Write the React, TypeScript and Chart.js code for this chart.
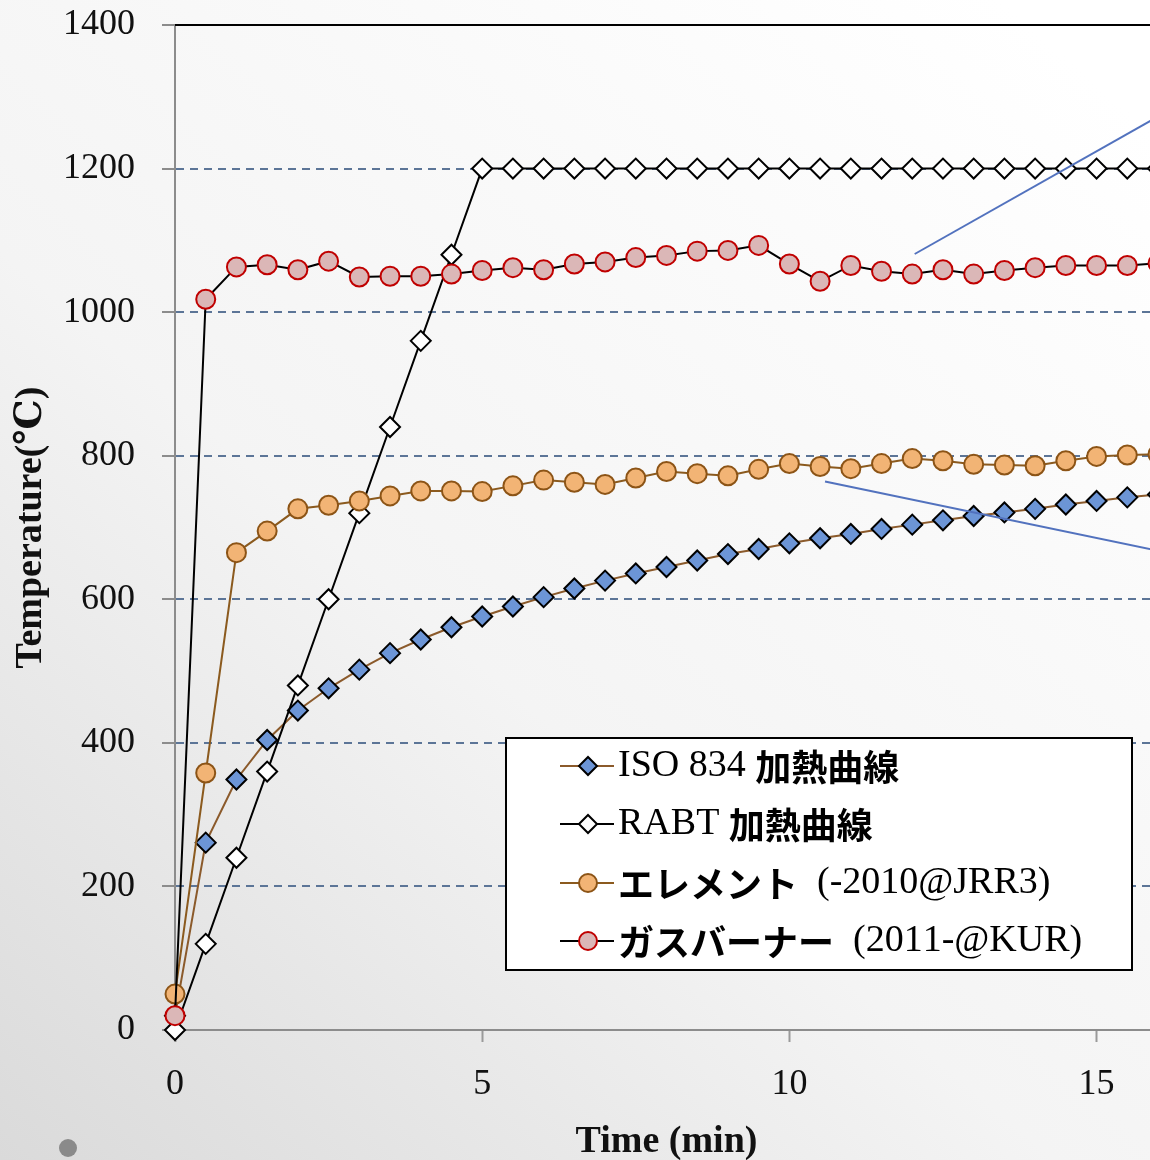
import React, { useEffect, useRef } from "react";
import { Chart, registerables } from "chart.js";

Chart.register(...registerables);

// ---- data ----
const timeMin = [0, 0.5, 1, 1.5, 2, 2.5, 3, 3.5, 4, 4.5, 5, 5.5, 6, 6.5, 7, 7.5, 8, 8.5, 9, 9.5, 10, 10.5, 11, 11.5, 12, 12.5, 13, 13.5, 14, 14.5, 15, 15.5, 16];

const iso834 = [20, 261, 349, 404, 445, 476, 502, 525, 544, 561, 576, 590, 603, 615, 626, 636, 645, 654, 663, 670, 678, 685, 691, 698, 704, 710, 716, 721, 726, 732, 737, 742, 746];

const rabt = [0, 120, 240, 360, 480, 600, 720, 840, 960, 1080, 1200, 1200, 1200, 1200, 1200, 1200, 1200, 1200, 1200, 1200, 1200, 1200, 1200, 1200, 1200, 1200, 1200, 1200, 1200, 1200, 1200, 1200, 1200];

const elementHeater = [50, 358, 665, 695, 726, 731, 737, 744, 751, 751, 750, 758, 766, 763, 760, 769, 778, 775, 772, 781, 789, 785, 782, 789, 796, 793, 788, 787, 786, 793, 799, 801, 802];

const gasBurner = [20, 1018, 1063, 1066, 1059, 1071, 1049, 1050, 1050, 1053, 1058, 1062, 1059, 1067, 1070, 1076, 1079, 1085, 1086, 1093, 1067, 1043, 1065, 1057, 1053, 1059, 1053, 1058, 1062, 1065, 1065, 1065, 1068];

const seriesLabels = ["ISO 834 加熱曲線", "RABT 加熱曲線", "エレメント  (-2010@JRR3)", "ガスバーナー  (2011-@KUR)"];

const xTickValues = [0, 5, 10, 15];
const yTickValues = [0, 200, 400, 600, 800, 1000, 1200, 1400];

const xTitle = "Time (min)";
const yTitle = "Temperature(℃)";

// callout leader lines (data coordinates: [time, temperature])
const calloutUpper = [[12.04, 1081], [16.2, 1282]];
const calloutLower = [[10.58, 764], [16.2, 664]];

// ---- styles ----
const SERIF = "'Liberation Serif', 'DejaVu Serif', serif";
const CJK = "'Noto Sans CJK JP', 'Noto Sans CJK SC', sans-serif";

const seriesStyles = [
  { line: "#8B5A2B", fill: "#6C95D6", border: "#000000", shape: "diamond" },
  { line: "#000000", fill: "#FFFFFF", border: "#000000", shape: "diamond" },
  { line: "#8B5A1E", fill: "#F2B475", border: "#8C5416", shape: "circle" },
  { line: "#000000", fill: "#DBB7B7", border: "#C00000", shape: "circle" },
];

function drawMarker(ctx: CanvasRenderingContext2D, x: number, y: number, shape: string, r: number, fill: string, stroke: string) {
  ctx.beginPath();
  if (shape === "diamond") {
    ctx.moveTo(x - r, y);
    ctx.lineTo(x, y - r);
    ctx.lineTo(x + r, y);
    ctx.lineTo(x, y + r);
    ctx.closePath();
  } else {
    ctx.arc(x, y, r, 0, Math.PI * 2);
  }
  ctx.fillStyle = fill;
  ctx.fill();
  ctx.lineWidth = 2;
  ctx.strokeStyle = stroke;
  ctx.stroke();
}

function drawMixedText(ctx: CanvasRenderingContext2D, text: string, x: number, y: number) {
  let cx = x;
  ctx.textBaseline = "middle";
  ctx.textAlign = "left";
  ctx.fillStyle = "#000";
  for (const ch of text) {
    const isCjk = ch.codePointAt(0)! >= 0x3000;
    ctx.font = isCjk ? `bold 36px ${CJK}` : `38px ${SERIF}`;
    ctx.fillText(ch, cx, isCjk ? y + 1 : y);
    cx += ctx.measureText(ch).width;
  }
}

const backgroundPlugin = {
  id: "bg",
  beforeDraw(chart: any) {
    const { ctx, width, height } = chart;
    ctx.save();
    const g = ctx.createLinearGradient(0, height, 1000, 0);
    g.addColorStop(0, "#dadada");
    g.addColorStop(0.45, "#f4f4f4");
    g.addColorStop(1, "#ffffff");
    ctx.fillStyle = g;
    ctx.fillRect(0, 0, width, height);
    // decorative dot bottom-left
    ctx.beginPath();
    ctx.arc(68, 1148, 9, 0, Math.PI * 2);
    ctx.fillStyle = "#8a8a8a";
    ctx.fill();
    ctx.restore();
  },
  beforeDatasetsDraw(chart: any) {
    const { ctx, chartArea } = chart;
    ctx.save();
    ctx.strokeStyle = "#000";
    ctx.lineWidth = 2;
    ctx.beginPath();
    ctx.moveTo(chartArea.left, chartArea.top);
    ctx.lineTo(chartArea.right + 20, chartArea.top);
    ctx.stroke();
    ctx.restore();
  },
};

const overlayPlugin = {
  id: "overlay",
  afterDatasetsDraw(chart: any) {
    const { ctx, scales } = chart;
    const xs = scales.x;
    const ys = scales.y;
    ctx.save();
    ctx.strokeStyle = "#5272BE";
    ctx.lineWidth = 2;
    for (const seg of [calloutUpper, calloutLower]) {
      ctx.beginPath();
      ctx.moveTo(xs.getPixelForValue(seg[0][0]), ys.getPixelForValue(seg[0][1]));
      ctx.lineTo(xs.getPixelForValue(seg[1][0]), ys.getPixelForValue(seg[1][1]));
      ctx.stroke();
    }
    ctx.restore();
  },
  afterDraw(chart: any) {
    const { ctx } = chart;
    ctx.save();
    // legend box
    const bx = 506, by = 738, bw = 626, bh = 232;
    ctx.fillStyle = "#ffffff";
    ctx.fillRect(bx, by, bw, bh);
    ctx.strokeStyle = "#000";
    ctx.lineWidth = 2;
    ctx.strokeRect(bx, by, bw, bh);
    const rows = [766, 824, 883, 941];
    seriesLabels.forEach((label, i) => {
      const st = seriesStyles[i];
      const y = rows[i];
      ctx.strokeStyle = st.line;
      ctx.lineWidth = 2;
      ctx.beginPath();
      ctx.moveTo(560, y);
      ctx.lineTo(614, y);
      ctx.stroke();
      drawMarker(ctx, 588, y, st.shape, 9, st.fill, st.border);
      drawMixedText(ctx, label, 618, y);
    });
    ctx.restore();
  },
};

export default function App() {
  const ref = useRef<HTMLCanvasElement | null>(null);

  useEffect(() => {
    document.body.style.margin = "0";
    const canvas = ref.current!;
    const seriesValues = [iso834, rabt, elementHeater, gasBurner];
    const orders = [4, 3, 2, 1];
    const datasets = seriesValues.map((vals, i) => {
      const st = seriesStyles[i];
      return {
        label: seriesLabels[i],
        data: timeMin.map((t, k) => ({ x: t, y: vals[k] })),
        borderColor: st.line,
        borderWidth: 2,
        pointStyle: st.shape === "diamond" ? "rectRot" : "circle",
        pointRadius: st.shape === "diamond" ? 10 : 9.5,
        pointBackgroundColor: st.fill,
        pointBorderColor: st.border,
        pointBorderWidth: 2,
        tension: 0,
        order: orders[i],
        clip: false as any,
      };
    });

    const chart = new Chart(canvas, {
      type: "line",
      data: { datasets: datasets as any },
      options: {
        responsive: false,
        animation: false,
        events: [],
        layout: { padding: { left: 0, top: 25, right: 2, bottom: 0 } },
        plugins: { legend: { display: false }, tooltip: { enabled: false } },
        scales: {
          x: {
            type: "linear",
            min: 0,
            max: 16,
            afterBuildTicks: (s: any) => {
              s.ticks = xTickValues.map((v) => ({ value: v }));
            },
            afterFit: (s: any) => {
              s.height = 130;
              s.paddingLeft = 0;
              s.paddingRight = 0;
            },
            grid: { display: true, drawOnChartArea: false, drawTicks: true, tickLength: 12, tickColor: "#9a9a9a", tickWidth: 2 },
            border: { color: "#8c8c8c", width: 2 },
            ticks: { color: "#111", font: { family: SERIF, size: 36 }, padding: 21, maxRotation: 0, callback: (v: any) => String(v) },
            title: {
              display: true,
              text: xTitle,
              color: "#111",
              font: { family: SERIF, size: 38, weight: "bold" },
              padding: { top: 0, bottom: -5 },
            },
          },
          y: {
            type: "linear",
            min: 0,
            max: 1400,
            afterBuildTicks: (s: any) => {
              s.ticks = yTickValues.map((v) => ({ value: v }));
            },
            afterFit: (s: any) => {
              s.width = 175;
              s.paddingTop = 0;
              s.paddingBottom = 0;
            },
            grid: {
              color: (c: any) => (c.tick && (c.tick.value === 0 || c.tick.value === 1400) ? "rgba(0,0,0,0)" : "#5C7597"),
              lineWidth: 2,
              drawTicks: true,
              tickLength: 13,
              tickColor: "#8c8c8c",
              tickWidth: 2,
            },
            border: { color: "#8c8c8c", width: 2, dash: [8, 6] },
            ticks: { color: "#111", font: { family: SERIF, size: 36 }, padding: 27, callback: (v: any) => String(v) },
            title: {
              display: true,
              text: yTitle,
              color: "#111",
              font: { family: SERIF, size: 38, weight: "bold" },
              padding: { top: 8, bottom: 0 },
            },
          },
        },
      },
      plugins: [backgroundPlugin, overlayPlugin],
    });
    return () => chart.destroy();
  }, []);

  return (
    <div style={{ width: 1150, height: 1160, overflow: "hidden", position: "relative" }}>
      <canvas ref={ref} width={1170} height={1160} style={{ width: 1170, height: 1160, display: "block" }} />
    </div>
  );
}
